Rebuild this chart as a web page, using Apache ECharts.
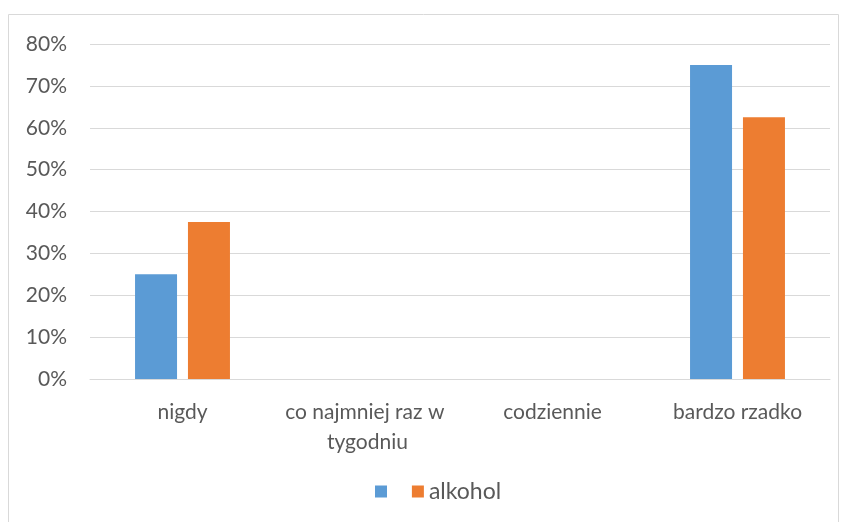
<!DOCTYPE html>
<html><head><meta charset="utf-8">
<script src="https://cdn.jsdelivr.net/npm/echarts@6/dist/echarts.min.js"></script>
<style>html,body{margin:0;padding:0;background:#fff}#c{width:844px;height:522px}</style>
</head><body><div id="c"></div>
<script>
const categories = ['nigdy', 'co najmniej raz w tygodniu', 'codziennie', 'bardzo rzadko'];
const series1Name = ' ';
const series1Values = [25, 0, 0, 75];
const series2Name = 'alkohol';
const series2Values = [37.5, 0, 0, 62.5];
const yTicks = [0, 10, 20, 30, 40, 50, 60, 70, 80];

const chart = echarts.init(document.getElementById('c'));
const font = 'Lato, "Open Sans", sans-serif';
chart.setOption({
  animation: false,
  textStyle: { fontFamily: font },
  graphic: [{ type: 'rect', shape: { x: 8.5, y: 14.5, width: 830, height: 520 }, style: { fill: 'none', stroke: '#d9d9d9', lineWidth: 1 } }],
  grid: { left: 90, right: 14, top: 44, bottom: 143, containLabel: false },
  legend: {
    data: [series1Name, series2Name], bottom: 14, left: 370,
    itemWidth: 12, itemHeight: 12, itemGap: 14, icon: 'rect',
    textStyle: { fontSize: 23, color: '#595959', fontFamily: font }
  },
  xAxis: {
    type: 'category', data: categories,
    axisLine: { lineStyle: { color: '#d9d9d9' } }, axisTick: { show: false },
    axisLabel: { fontSize: 21, color: '#595959', margin: 18, width: 185, overflow: 'break', lineHeight: 30, interval: 0 }
  },
  yAxis: {
    type: 'value', min: yTicks[0], max: yTicks[yTicks.length - 1], interval: 10,
    axisLabel: { formatter: '{value}%', fontSize: 21, color: '#595959', margin: 23 },
    splitLine: { lineStyle: { color: '#d9d9d9' } }, axisLine: { show: false }, axisTick: { show: false }
  },
  series: [
    { name: series1Name, type: 'bar', data: series1Values, barWidth: 42, barGap: '26%', itemStyle: { color: '#5b9bd5' } },
    { name: series2Name, type: 'bar', data: series2Values, barWidth: 42, itemStyle: { color: '#ed7d31' } }
  ]
});
</script></body></html>
